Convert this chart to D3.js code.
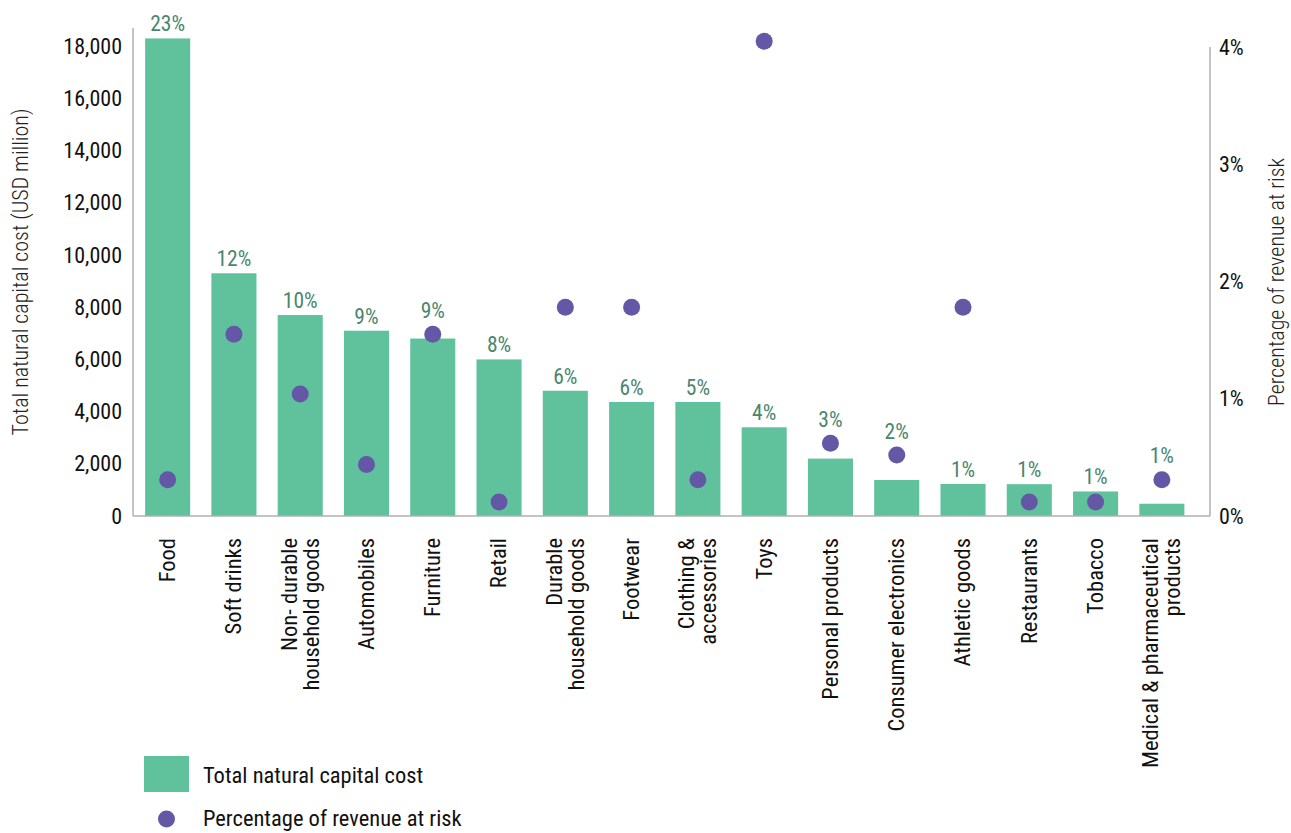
<!DOCTYPE html>
<html>
<head>
<meta charset="utf-8">
<script src="https://cdn.jsdelivr.net/npm/d3@7"></script>
<style>
  body { margin: 0; background: #fff; }
  svg { font-family: Roboto, "Noto Sans", sans-serif; font-stretch: semi-condensed; }
</style>
</head>
<body>
<svg id="chart" width="1291" height="833"></svg>
<script>
// categories, two-line labels split with "\n"
const categories = [
  "Food", "Soft drinks", "Non- durable\nhousehold goods", "Automobiles", "Furniture",
  "Retail", "Durable\nhousehold goods", "Footwear", "Clothing &\naccessories", "Toys",
  "Personal products", "Consumer electronics", "Athletic goods", "Restaurants",
  "Tobacco", "Medical & pharmaceutical\nproducts"
];
// total natural capital cost, USD million
const costValues = [18300, 9300, 7700, 7100, 6800, 6000, 4800, 4370, 4370, 3400, 2200, 1380, 1230, 1220, 940, 470];
// share of total cost, shown above bars
const shareLabels = ["23%", "12%", "10%", "9%", "9%", "8%", "6%", "6%", "5%", "4%", "3%", "2%", "1%", "1%", "1%", "1%"];
// percentage of revenue at risk
const riskValues = [0.31, 1.55, 1.04, 0.44, 1.55, 0.12, 1.78, 1.78, 0.31, 4.05, 0.62, 0.52, 1.78, 0.12, 0.12, 0.31];
const leftTicks = [0, 2000, 4000, 6000, 8000, 10000, 12000, 14000, 16000, 18000];
const rightTicks = [0, 1, 2, 3, 4];

const barColor = "#60c29c", dotColor = "#6457a6", shareColor = "#4a8670", axisColor = "#b0b0b0";

const svg = d3.select("#chart");
const baseY = 516, leftX = 133, rightX = 1210;

const x = d3.scaleBand().domain(categories).range([134.5, 1195]).paddingInner(0.32).paddingOuter(0.16);
const yCost = d3.scaleLinear().domain([0, 18700]).range([baseY, 28]);
const yRisk = d3.scaleLinear().domain([0, 4]).range([baseY, 47]);
const dotR = 8.5;

// axis lines
svg.append("line").attr("x1", leftX).attr("x2", leftX).attr("y1", yCost(18700)).attr("y2", baseY)
  .attr("stroke", axisColor).attr("stroke-width", 1.5);
svg.append("line").attr("x1", rightX).attr("x2", rightX).attr("y1", yRisk(4)).attr("y2", baseY)
  .attr("stroke", axisColor).attr("stroke-width", 1.5);

// left axis
const gL = svg.append("g").attr("transform", `translate(${leftX},0)`)
  .call(d3.axisLeft(yCost).tickValues(leftTicks).tickSize(0).tickPadding(11).tickFormat(d3.format(",")));
gL.select(".domain").remove();
gL.selectAll("text").attr("font-size", 22).attr("fill", "#111").attr("font-family", "Roboto");

// right axis
const gR = svg.append("g").attr("transform", `translate(${rightX},0)`)
  .call(d3.axisRight(yRisk).tickValues(rightTicks).tickSize(0).tickPadding(9).tickFormat(d => d + "%"));
gR.select(".domain").remove();
gR.selectAll("text").attr("font-size", 22).attr("fill", "#111").attr("font-family", "Roboto");

// bars
svg.append("g").selectAll("rect").data(categories).join("rect")
  .attr("x", d => x(d))
  .attr("width", x.bandwidth())
  .attr("y", (d, i) => yCost(costValues[i]))
  .attr("height", (d, i) => baseY - yCost(costValues[i]))
  .attr("fill", barColor);

// baseline
svg.append("line").attr("x1", leftX).attr("x2", rightX).attr("y1", baseY).attr("y2", baseY)
  .attr("stroke", axisColor).attr("stroke-width", 1.5);

// share labels above bars, lifted over a dot that sits at the bar top
svg.append("g").selectAll("text").data(categories).join("text")
  .attr("x", d => x(d) + x.bandwidth() / 2)
  .attr("y", (d, i) => {
    const top = yCost(costValues[i]);
    const dy = yRisk(riskValues[i]);
    let base = top - 7;
    if (dy + dotR > base - 16 && dy - dotR < top) base = dy - dotR - 8;
    return base;
  })
  .attr("text-anchor", "middle")
  .attr("font-size", 21.5)
  .attr("font-weight", 370)
  .attr("fill", shareColor)
  .text((d, i) => shareLabels[i]);

// dots
svg.append("g").selectAll("circle").data(categories).join("circle")
  .attr("cx", d => x(d) + x.bandwidth() / 2)
  .attr("cy", (d, i) => yRisk(riskValues[i]))
  .attr("r", dotR)
  .attr("fill", dotColor);

// category labels, rotated
const lineGap = 22;
const cat = svg.append("g").selectAll("text").data(categories).join("text")
  .attr("transform", d => `translate(${x(d) + x.bandwidth() / 2},538) rotate(-90)`)
  .attr("text-anchor", "end")
  .attr("font-size", 22.5)
  .attr("fill", "#111");
cat.each(function(d) {
  const lines = d.split("\n");
  const t = d3.select(this);
  lines.forEach((ln, j) => {
    t.append("tspan").attr("x", 0)
      .attr("y", (j - (lines.length - 1) / 2) * lineGap)
      .attr("dy", "0.33em")
      .text(ln);
  });
});

// axis titles
svg.append("text")
  .attr("transform", "translate(28,272) rotate(-90)")
  .attr("text-anchor", "middle")
  .attr("font-size", 22)
  .attr("font-weight", 300)
  .attr("fill", "#222")
  .text("Total natural capital cost (USD million)");
svg.append("text")
  .attr("transform", "translate(1284,282) rotate(-90)")
  .attr("text-anchor", "middle")
  .attr("font-size", 22)
  .attr("font-weight", 300)
  .attr("fill", "#222")
  .text("Percentage of revenue at risk");

// legend
svg.append("rect").attr("x", 144).attr("y", 756).attr("width", 45).attr("height", 36).attr("fill", barColor);
svg.append("text").attr("x", 203).attr("y", 783).attr("font-size", 22.5).attr("fill", "#111")
  .text("Total natural capital cost");
svg.append("circle").attr("cx", 166.5).attr("cy", 819).attr("r", dotR).attr("fill", dotColor);
svg.append("text").attr("x", 203).attr("y", 826).attr("font-size", 22.5).attr("fill", "#111")
  .text("Percentage of revenue at risk");
</script>
</body>
</html>
